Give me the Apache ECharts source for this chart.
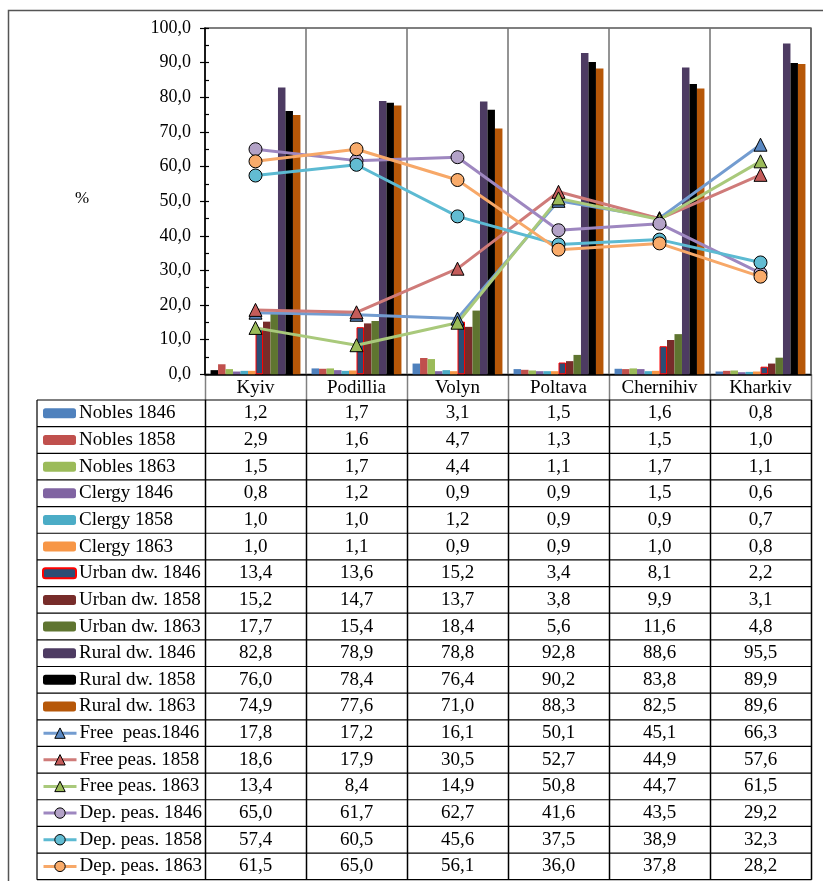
<!DOCTYPE html>
<html>
<head>
<meta charset="utf-8">
<script src="https://cdn.jsdelivr.net/npm/echarts@6/dist/echarts.min.js"></script>
<style>html,body{margin:0;padding:0;background:#fff}#c{width:823px;height:881px}</style>
</head>
<body>
<div id="c"></div>
<script>
var categories = ['Kyiv','Podillia','Volyn','Poltava','Chernihiv','Kharkiv'];
var yTicks = [0,10,20,30,40,50,60,70,80,90,100];

var nobles1846 = [1.2,1.7,3.1,1.5,1.6,0.8];
var nobles1858 = [2.9,1.6,4.7,1.3,1.5,1.0];
var nobles1863 = [1.5,1.7,4.4,1.1,1.7,1.1];
var clergy1846 = [0.8,1.2,0.9,0.9,1.5,0.6];
var clergy1858 = [1.0,1.0,1.2,0.9,0.9,0.7];
var clergy1863 = [1.0,1.1,0.9,0.9,1.0,0.8];
var urban1846  = [13.4,13.6,15.2,3.4,8.1,2.2];
var urban1858  = [15.2,14.7,13.7,3.8,9.9,3.1];
var urban1863  = [17.7,15.4,18.4,5.6,11.6,4.8];
var rural1846  = [82.8,78.9,78.8,92.8,88.6,95.5];
var rural1858  = [76.0,78.4,76.4,90.2,83.8,89.9];
var rural1863  = [74.9,77.6,71.0,88.3,82.5,89.6];
var free1846   = [17.8,17.2,16.1,50.1,45.1,66.3];
var free1858   = [18.6,17.9,30.5,52.7,44.9,57.6];
var free1863   = [13.4,8.4,14.9,50.8,44.7,61.5];
var dep1846    = [65.0,61.7,62.7,41.6,43.5,29.2];
var dep1858    = [57.4,60.5,45.6,37.5,38.9,32.3];
var dep1863    = [61.5,65.0,56.1,36.0,37.8,28.2];

var barNames = ['Nobles 1846','Nobles 1858','Nobles 1863','Clergy 1846','Clergy 1858','Clergy 1863',
  'Urban dw. 1846','Urban dw. 1858','Urban dw. 1863','Rural dw. 1846','Rural dw. 1858','Rural dw. 1863'];
var barData = [nobles1846,nobles1858,nobles1863,clergy1846,clergy1858,clergy1863,
  urban1846,urban1858,urban1863,rural1846,rural1858,rural1863];
var barColors = ['#4F81BD','#C0504D','#9BBB59','#8064A2','#4BACC6','#F79646',
  '#2C4D75','#772C2A','#5F7530','#4D3B62','#000000','#B65708'];

var lineNames = ['Free  peas.1846','Free peas. 1858','Free peas. 1863','Dep. peas. 1846','Dep. peas. 1858','Dep. peas. 1863'];
var lineData = [free1846,free1858,free1863,dep1846,dep1858,dep1863];
var lineColors = ['#739CD0','#CF7B79','#A9C97B','#9E87C0','#5CBAD2','#F7A868'];
var markerColors = ['#5A88C2','#C45C5A','#9BBB59','#B3A2C7','#62BCD2','#F9AB6A'];
var markerSymbols = ['triangle','triangle','triangle','circle','circle','circle'];

var FONT = '"Liberation Serif", "Times New Roman", serif';
var fmt = function(v){ return v.toFixed(1).replace('.', ','); };

var W = 823, H = 881;
var gridLeft = 205, gridRight = 12, gridTop = 28, gridBottom = 881 - 374.3;
var plotRight = W - gridRight;
var colW = (plotRight - gridLeft) / categories.length;
var tableTop = 400, rowH = 26.65, legendLeft = 37;
var allNames = barNames.concat(lineNames);
var allData = barData.concat(lineData);
var tableBottom = tableTop + rowH * allNames.length;

var series = [];
barNames.forEach(function(n, i){
  var d = barData[i].map(function(v, j){
    if (i === 0 && j === 0) return {value: v, itemStyle: {color: '#000000'}};
    return v;
  });
  series.push({
    name: n, type: 'bar', data: d, barGap: '0%', barCategoryGap: '11%',
    itemStyle: i === 6 ? {color: barColors[i], borderColor: '#FF0000', borderWidth: 1} : {color: barColors[i]},
    emphasis: {disabled: true}
  });
});
lineNames.forEach(function(n, i){
  series.push({
    name: n, type: 'line', data: lineData[i], symbol: markerSymbols[i], symbolSize: 13,
    lineStyle: {color: lineColors[i], width: 3},
    itemStyle: {color: markerColors[i], borderColor: '#000', borderWidth: 1},
    emphasis: {disabled: true}, z: 3
  });
});

var graphics = [];
graphics.push({type: 'polyline', silent: true, shape: {points: [[8.5, H], [8.5, 10.5], [W, 10.5]]},
  style: {stroke: '#555', lineWidth: 1.5, fill: null}});
for (var j = 0; j <= categories.length; j++) {
  var x = Math.round(gridLeft + j * colW) + 0.5;
  graphics.push({type: 'line', silent: true, shape: {x1: x, y1: 374.3, x2: x, y2: tableTop},
    style: {stroke: '#808080', lineWidth: 1.5}});
  graphics.push({type: 'line', silent: true, shape: {x1: x, y1: tableTop, x2: x, y2: tableBottom},
    style: {stroke: '#000', lineWidth: 1.5}});
}
graphics.push({type: 'line', silent: true, shape: {x1: legendLeft, y1: tableTop, x2: legendLeft, y2: tableBottom},
  style: {stroke: '#333', lineWidth: 1.5}});
for (var r = 0; r <= allNames.length; r++) {
  var y = tableTop + r * rowH;
  graphics.push({type: 'line', silent: true, shape: {x1: legendLeft, y1: y, x2: plotRight + 0.5, y2: y},
    style: {stroke: '#000', lineWidth: 1.2}});
}
allData.forEach(function(arr, r){
  arr.forEach(function(v, c){
    graphics.push({type: 'text', silent: true,
      x: gridLeft + (c + 0.5) * colW, y: tableTop + (r + 0.5) * rowH,
      style: {text: fmt(v), font: '19px ' + FONT, fill: '#000', align: 'center', verticalAlign: 'middle'}});
  });
});
graphics.push({type: 'text', silent: true, x: 82, y: 199,
  style: {text: '%', font: '17px ' + FONT, fill: '#000', align: 'center', verticalAlign: 'middle'}});

var legendText = {fontFamily: FONT, fontSize: 19, color: '#000', lineHeight: rowH, padding: [0, 0, 0, -2]};

var chart = echarts.init(document.getElementById('c'), null, {renderer: 'canvas'});
chart.setOption({
  animation: false,
  backgroundColor: '#fff',
  textStyle: {fontFamily: FONT},
  grid: {left: gridLeft, right: gridRight, top: gridTop, bottom: gridBottom, show: true,
    borderColor: '#000', borderWidth: 1.2, backgroundColor: 'transparent'},
  legend: [{
    orient: 'vertical', left: legendLeft + 5, top: tableTop, itemGap: 0,
    itemWidth: 33, itemHeight: 10, selectedMode: false, data: barNames,
    textStyle: legendText, padding: 0
  }, {
    orient: 'vertical', left: legendLeft + 5, top: tableTop + rowH * barNames.length, itemGap: 0,
    itemWidth: 33, itemHeight: 13, selectedMode: false, data: lineNames,
    lineStyle: {width: 3},
    itemStyle: {borderColor: '#000', borderWidth: 1},
    textStyle: legendText, padding: 0
  }],
  xAxis: {
    type: 'category', data: categories, boundaryGap: true,
    axisLine: {lineStyle: {color: '#000', width: 1.5}},
    axisTick: {show: false},
    axisLabel: {fontFamily: FONT, fontSize: 19, color: '#000', margin: 4},
    splitLine: {show: true, interval: 0, lineStyle: {color: '#707070', width: 1.5}}
  },
  yAxis: [{
    type: 'value', min: yTicks[0], max: yTicks[yTicks.length - 1], interval: 10,
    axisLine: {show: true, lineStyle: {color: '#000', width: 1.5}},
    axisTick: {show: true, length: 5, lineStyle: {color: '#000', width: 1.2}},
    axisLabel: {formatter: fmt, fontFamily: FONT, fontSize: 18, color: '#000', margin: 14},
    splitLine: {show: false}
  }, {
    type: 'value', min: yTicks[0], max: yTicks[yTicks.length - 1], interval: 10, position: 'left',
    axisLine: {show: false},
    axisTick: {show: true, inside: true, length: 4, lineStyle: {color: '#000', width: 1.2}},
    minorTick: {show: true, splitNumber: 2, length: 4, lineStyle: {color: '#000', width: 1.2}},
    axisLabel: {show: false},
    splitLine: {show: false}
  }],
  series: series,
  graphic: graphics
});
</script>
</body>
</html>
